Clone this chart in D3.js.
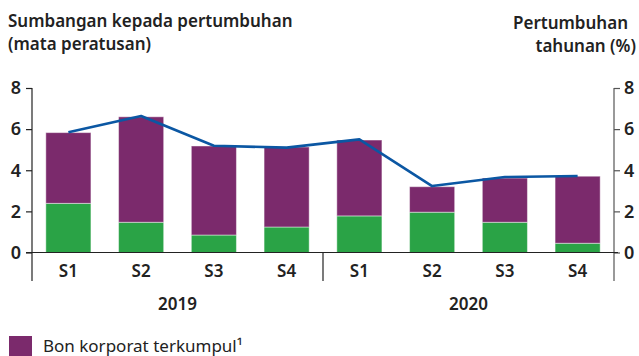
<!DOCTYPE html>
<html>
<head>
<meta charset="utf-8">
<script src="https://cdn.jsdelivr.net/npm/d3@7"></script>
<style>
  html, body { margin: 0; padding: 0; background: #fff; }
  svg { display: block; font-family: "Noto Sans", "Open Sans", sans-serif; }
</style>
</head>
<body>
<svg id="chart" width="639" height="356"></svg>
<script>
// Half-year periods and their years
const years = ["2019", "2020"];
const halves = ["S1", "S2", "S3", "S4"];

// Contribution to growth (percentage points)
const loanContribution = [2.39, 1.47, 0.85, 1.24, 1.78, 1.96, 1.47, 0.45];
const bondContribution = [3.44, 5.13, 4.33, 3.89, 3.69, 1.24, 2.15, 3.26];

// Annual growth (%)
const annualGrowth = [5.85, 6.64, 5.19, 5.1, 5.5, 3.23, 3.67, 3.72];

const yTicks = [0, 2, 4, 6, 8];

const colors = { bond: "#7b2a6c", loan: "#2aa346", line: "#0b57a3" };

const svg = d3.select("#chart");
const left = 32, right = 614, zeroY = 252.5, topY = 88, bottomY = 281;

const keys = [];
years.forEach(yr => halves.forEach(h => keys.push(yr + "-" + h)));

const rows = keys.map((k, i) => ({
  key: k, half: k.split("-")[1],
  loan: loanContribution[i], bond: bondContribution[i], growth: annualGrowth[i]
}));

const x = d3.scaleBand().domain(keys).range([left, right])
  .paddingInner(0.38).paddingOuter(0.19);
const y = d3.scaleLinear().domain([0, 8]).range([zeroY, topY]);

// Stacked bars: loans at the bottom, bonds on top
const stack = d3.stack().keys(["loan", "bond"])(rows);
svg.append("g").selectAll("g").data(stack).join("g")
  .attr("fill", d => colors[d.key])
  .selectAll("rect").data(d => d).join("rect")
  .attr("x", d => x(d.data.key))
  .attr("width", x.bandwidth())
  .attr("y", d => y(d[1]))
  .attr("height", d => y(d[0]) - y(d[1]))
  .attr("stroke", "#fff").attr("stroke-opacity", 0.45).attr("stroke-width", 1);

// Annual growth line
svg.append("path")
  .datum(rows)
  .attr("fill", "none")
  .attr("stroke", colors.line)
  .attr("stroke-width", 2.6)
  .attr("stroke-linejoin", "round")
  .attr("d", d3.line().x(d => x(d.key) + x.bandwidth() / 2).y(d => y(d.growth)));

// Left axis
const leftAxis = svg.append("g").attr("transform", `translate(${left},0)`)
  .call(d3.axisLeft(y).tickValues(yTicks).tickFormat(d3.format("d")).tickSize(6).tickPadding(5));
leftAxis.select(".domain").remove();
leftAxis.selectAll("line").attr("stroke", "#222").attr("stroke-width", 1.2);
leftAxis.selectAll("text").attr("font-size", 18).attr("font-weight", 600).attr("fill", "#222")
  .attr("font-family", "Noto Sans");
svg.append("line").attr("x1", left).attr("x2", left).attr("y1", topY).attr("y2", bottomY)
  .attr("stroke", "#222").attr("stroke-width", 1.2);

// Right axis
const rightAxis = svg.append("g").attr("transform", `translate(${right},0)`)
  .call(d3.axisRight(y).tickValues(yTicks).tickFormat(d3.format("d")).tickSize(6).tickPadding(4));
rightAxis.select(".domain").remove();
rightAxis.selectAll("line").attr("stroke", "#555").attr("stroke-width", 1.2);
rightAxis.selectAll("text").attr("font-size", 18).attr("font-weight", 600).attr("fill", "#222")
  .attr("font-family", "Noto Sans");
svg.append("line").attr("x1", right).attr("x2", right).attr("y1", topY).attr("y2", bottomY)
  .attr("stroke", "#555").attr("stroke-width", 1.2);

// Zero baseline
svg.append("line").attr("x1", left - 6).attr("x2", right + 4).attr("y1", zeroY).attr("y2", zeroY)
  .attr("stroke", "#222").attr("stroke-width", 1.2);

// Separator between years
const sepX = x(keys[4]) - x.step() * x.paddingInner() / 2;
svg.append("line").attr("x1", sepX).attr("x2", sepX).attr("y1", zeroY).attr("y2", bottomY)
  .attr("stroke", "#222").attr("stroke-width", 1.2);

// Half-year labels
svg.append("g").selectAll("text").data(rows).join("text")
  .attr("x", d => x(d.key) + x.bandwidth() / 2)
  .attr("y", 277)
  .attr("text-anchor", "middle")
  .attr("font-size", 17).attr("font-weight", 600).attr("fill", "#222")
  .text(d => d.half);

// Year labels centred under each group
svg.append("g").selectAll("text").data(years).join("text")
  .attr("x", (yr, i) => {
    const a = x(keys[i * 4]), b = x(keys[i * 4 + 3]) + x.bandwidth();
    return (a + b) / 2;
  })
  .attr("y", 310)
  .attr("text-anchor", "middle")
  .attr("font-size", 17).attr("font-weight", 600).attr("fill", "#222")
  .text(d => d);

// Titles
const titleL = svg.append("text").attr("x", 8).attr("font-size", 17).attr("font-weight", 600).attr("fill", "#222");
titleL.append("tspan").attr("x", 8).attr("y", 27).text("Sumbangan kepada pertumbuhan");
titleL.append("tspan").attr("x", 8).attr("y", 50).text("(mata peratusan)");

const titleR = svg.append("text").attr("text-anchor", "end").attr("font-size", 17).attr("font-weight", 600).attr("fill", "#222");
titleR.append("tspan").attr("x", 628).attr("y", 29).text("Pertumbuhan");
titleR.append("tspan").attr("x", 636).attr("y", 52).text("tahunan (%)");

// Legend
svg.append("rect").attr("x", 9).attr("y", 336).attr("width", 23).attr("height", 22).attr("fill", colors.bond);
svg.append("text").attr("x", 43).attr("y", 352).attr("font-size", 17).attr("fill", "#222")
  .text("Bon korporat terkumpul¹");
</script>
</body>
</html>
